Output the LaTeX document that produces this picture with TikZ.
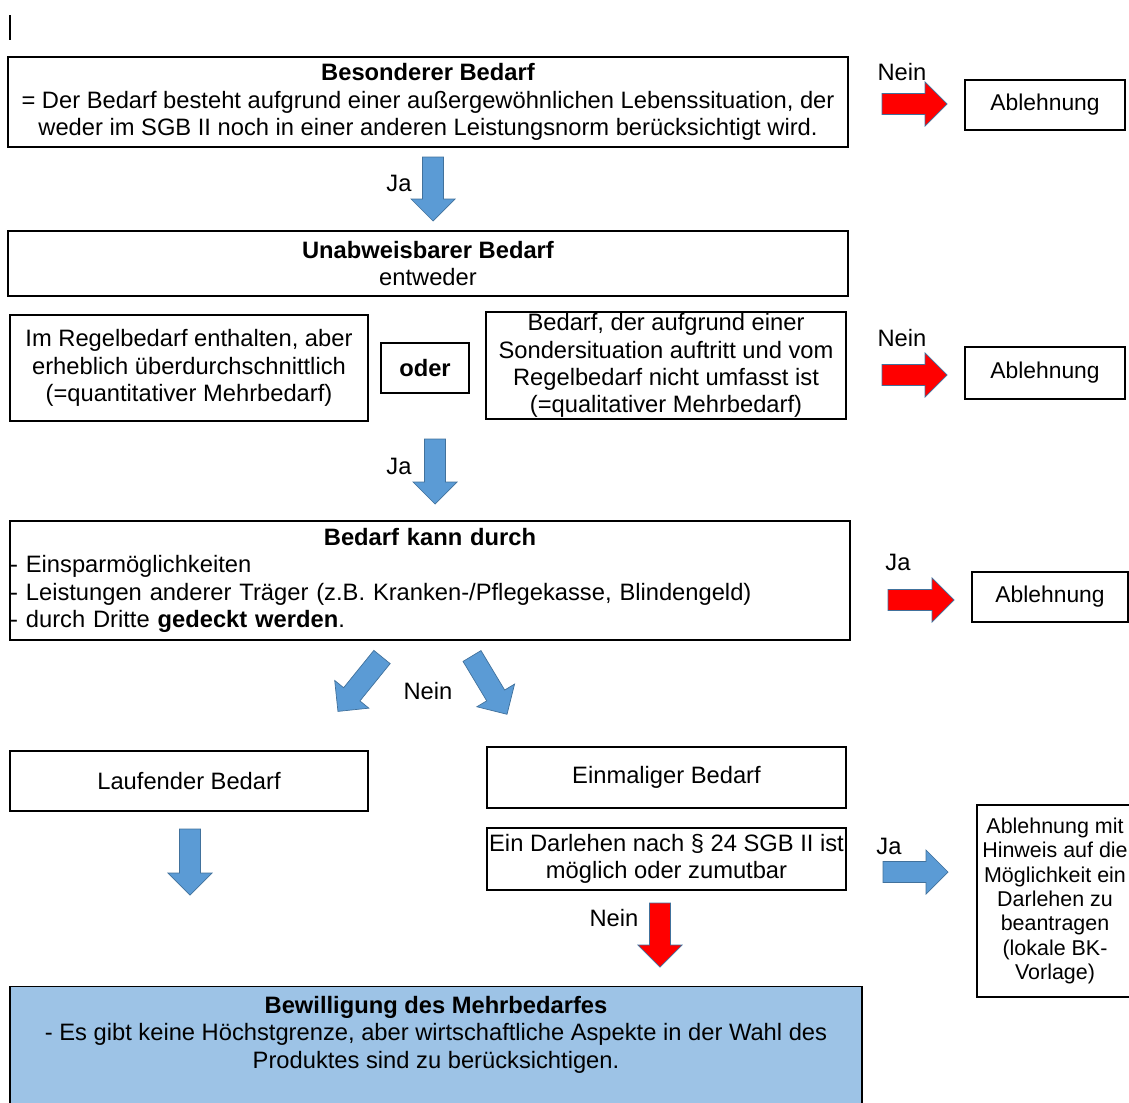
\documentclass[tikz,border=0pt]{standalone}
\usepackage{fontspec}
\setmainfont{Liberation Sans}
\definecolor{pfeilblau}{HTML}{5B9BD5}
\definecolor{pfeilrand}{HTML}{41719C}
\definecolor{boxblau}{HTML}{9DC3E6}
\begin{document}
\begin{tikzpicture}[
        x=0.02cm, y=-0.02cm, % 1 Einheit = 1 Pixel, y nach unten
        kasten/.style={draw, line width=0.8pt, align=center, inner sep=0pt, font=\fontsize{13.5}{15.5}\selectfont}, % Kaesten
        klein/.style={kasten, font=\fontsize{13}{15}\selectfont},
        marke/.style={inner sep=0pt, font=\fontsize{13.5}{15.5}\selectfont}, % Ja / Nein
        blaupfeil/.style={fill=pfeilblau, draw=pfeilrand, line width=0.4pt},
        rotpfeil/.style={fill=red, draw=pfeilrand, line width=0.4pt},
        pics/blockpfeil/.style={code={
            \path[pic actions] (0,-10.5) -- (#1-22,-10.5) -- (#1-22,-22) -- (#1,0) -- (#1-22,22) -- (#1-22,10.5) -- (0,10.5) -- cycle;
        }},
    ]
    \useasboundingbox (0,0) rectangle (1129,1102);

    \draw[line width=0.6pt] (10,15) -- (10,40);

    % erste Stufe
    \node[kasten, minimum width=16.8cm, minimum height=1.8cm] (besonders) at (428,102)
        {\textbf{Besonderer Bedarf}\\= Der Bedarf besteht aufgrund einer außergewöhnlichen Lebenssituation, der\\weder im SGB II noch in einer anderen Leistungsnorm berücksichtigt wird.};
    \node[klein, minimum width=3.2cm, minimum height=1cm] (ablehnA) at (1045,105) {Ablehnung};
    \node[marke] (neinA) at (902,72) {Nein};
    \pic[rotpfeil] at (882,104) {blockpfeil=65};
    \node[marke] (jaA) at (399,183) {Ja};
    \pic[blaupfeil, rotate=-90] at (433,157) {blockpfeil=64};

    % zweite Stufe
    \node[kasten, minimum width=16.8cm, minimum height=1.3cm] (unabweisbar) at (428,263.5)
        {\textbf{Unabweisbarer Bedarf}\\entweder};
    \node[kasten, minimum width=7.16cm, minimum height=2.12cm] (quanti) at (189,368)
        {Im Regelbedarf enthalten, aber\\erheblich überdurchschnittlich\\(=quantitativer Mehrbedarf)};
    \node[kasten, minimum width=1.76cm, minimum height=1cm] (oder) at (425,368) {\textbf{oder}};
    \node[kasten, minimum width=7.2cm, minimum height=2.14cm] (quali) at (666,365.5)
        {Bedarf, der aufgrund einer\\Sondersituation auftritt und vom\\Regelbedarf nicht umfasst ist\\(=qualitativer Mehrbedarf)};
    \node[klein, minimum width=3.2cm, minimum height=1.04cm] (ablehnB) at (1045,373) {Ablehnung};
    \node[marke] (neinB) at (902,338) {Nein};
    \pic[rotpfeil] at (882,375) {blockpfeil=65};
    \node[marke] (jaB) at (399,466) {Ja};
    \pic[blaupfeil, rotate=-90] at (435,439) {blockpfeil=65};

    % dritte Stufe
    \node[kasten, minimum width=16.8cm, minimum height=2.38cm, text width=16.8cm, align=left] (deckung) at (430,580.5)
        {\hfill\textbf{Bedarf kann durch}\hfill\null\\- Einsparmöglichkeiten\\- Leistungen anderer Träger (z.B. Kranken-/Pflegekasse, Blindengeld)\\- durch Dritte \textbf{gedeckt werden}.};
    \node[klein, minimum width=3.12cm, minimum height=1cm] (ablehnC) at (1050,597) {Ablehnung};
    \node[marke] (jaC) at (898,562) {Ja};
    \pic[rotpfeil] at (888,600) {blockpfeil=66};
    \node[marke] (neinC) at (428,691) {Nein};
    \pic[blaupfeil, rotate=-129] at (382,657) {blockpfeil=70};
    \pic[blaupfeil, rotate=-59] at (472,656) {blockpfeil=68};

    % vierte Stufe
    \node[kasten, minimum width=7.16cm, minimum height=1.2cm] (laufend) at (189,781) {Laufender Bedarf};
    \node[kasten, minimum width=7.18cm, minimum height=1.22cm] (einmalig) at (666.5,777.5) {Einmaliger Bedarf};
    \node[kasten, minimum width=7.18cm, minimum height=1.24cm] (darlehen) at (666.5,859)
        {Ein Darlehen nach § 24 SGB II ist\\möglich oder zumutbar};
    \pic[blaupfeil, rotate=-90] at (190,829) {blockpfeil=66};
    \node[marke] (jaD) at (889,846) {Ja};
    \pic[blaupfeil] at (883,872) {blockpfeil=65};
    \node[kasten, font=\fontsize{12.2}{13.9}\selectfont, minimum width=3.12cm, minimum height=3.84cm] (hinweis) at (1055,901)
        {Ablehnung mit\\Hinweis auf die\\Möglichkeit ein\\Darlehen zu\\beantragen\\(lokale BK-\\Vorlage)};
    \node[marke] (neinD) at (614,918) {Nein};
    \pic[rotpfeil, rotate=-90] at (660,903) {blockpfeil=64};

    % Ergebnis
    \node[draw, line width=0.8pt, fill=boxblau, minimum width=17.04cm, minimum height=3cm, anchor=north] (bewilligung) at (436,986) {};
    \node[marke, align=center, anchor=north] (bewtext) at ([yshift=-0.2cm]bewilligung.north)
        {\textbf{Bewilligung des Mehrbedarfes}\\- Es gibt keine Höchstgrenze, aber wirtschaftliche Aspekte in der Wahl des\\Produktes sind zu berücksichtigen.};
\end{tikzpicture}
\end{document}
